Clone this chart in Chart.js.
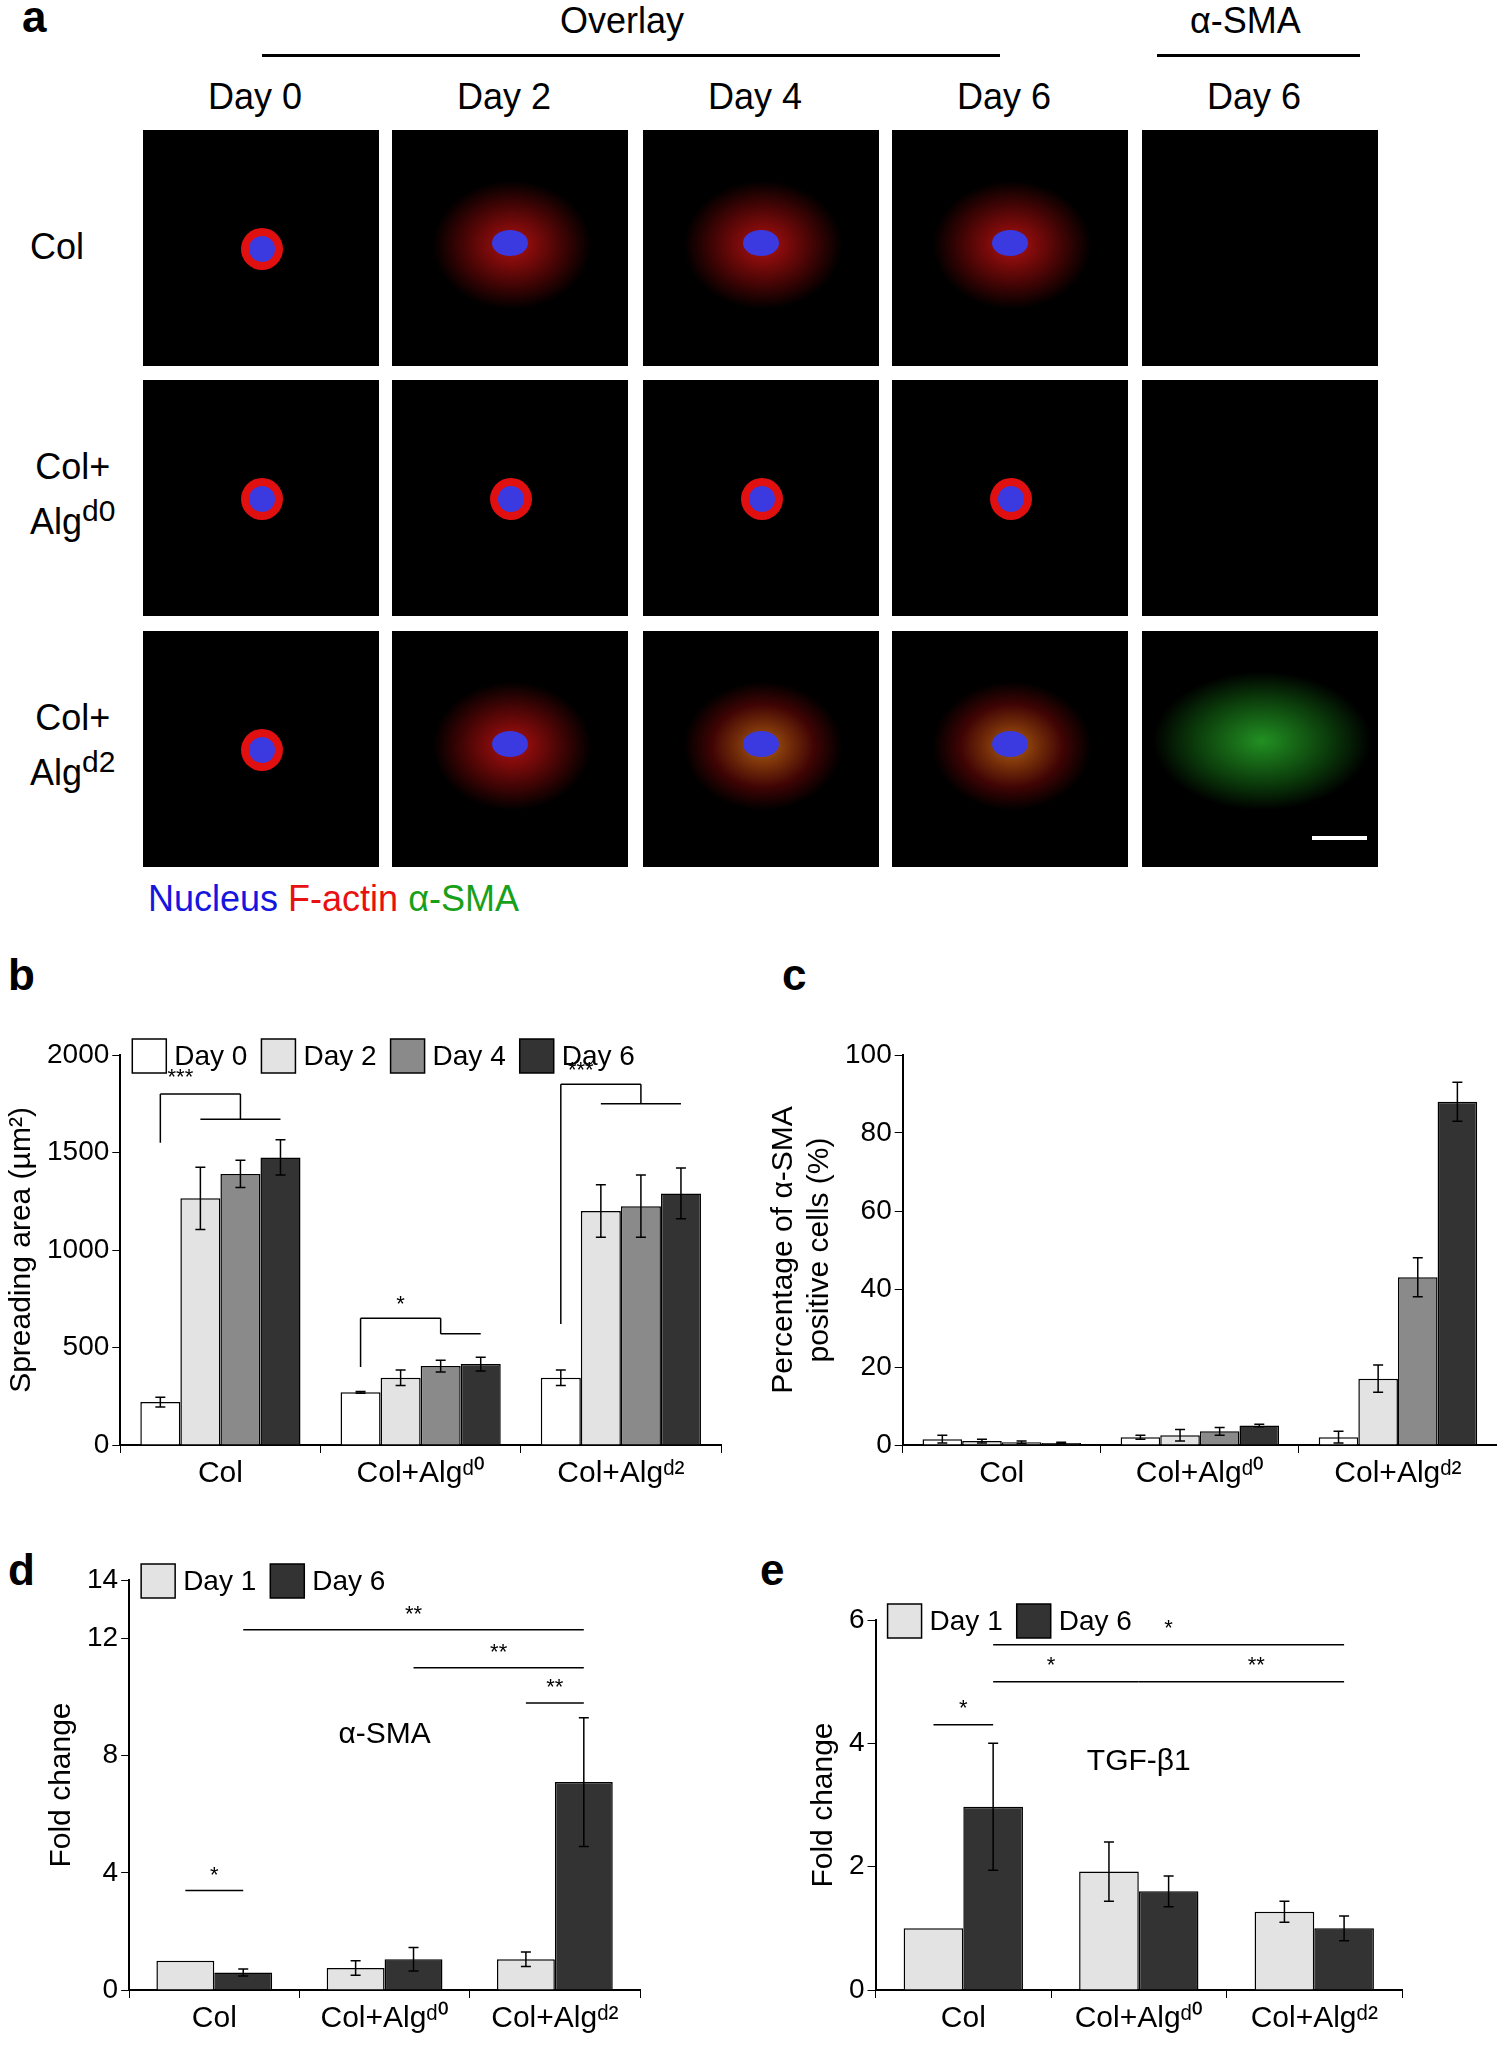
<!DOCTYPE html>
<html>
<head>
<meta charset="utf-8">
<script src="https://cdn.jsdelivr.net/npm/chart.js@4.4.1/dist/chart.umd.min.js"></script>
<style>
  body { margin:0; width:1497px; height:2045px; background:#fff; font-family:"Liberation Sans", Arial, sans-serif; position:relative; overflow:hidden; }
  .abs { position:absolute; }
  .lbl { position:absolute; font-size:36px; color:#000; }
  .panel { position:absolute; font-size:44px; font-weight:bold; }
  .img { position:absolute; width:236px; height:236px; background:#000; overflow:hidden; }
  .cell { position:absolute; border-radius:50%; }
</style>
</head>
<body>
<div class="panel" style="left:22px;top:-8px">a</div>
<div class="panel" style="left:8px;top:950px">b</div>
<div class="panel" style="left:782px;top:950px">c</div>
<div class="panel" style="left:8px;top:1545px">d</div>
<div class="panel" style="left:760px;top:1545px">e</div>
<div id="panelA"></div>
<div class="abs" style="left:0;top:1035px"><canvas id="chartB" width="735" height="460"></canvas></div>
<div class="abs" style="left:762px;top:1035px"><canvas id="chartC" width="735" height="460"></canvas></div>
<div class="abs" style="left:0;top:1560px"><canvas id="chartD" width="680" height="480"></canvas></div>
<div class="abs" style="left:762px;top:1600px"><canvas id="chartE" width="680" height="440"></canvas></div>
<script>
// ---- DATA ----
var groups = ["Col", "Col+Algᵈ⁰", "Col+Algᵈ²"];
var daysBC = ["Day 0", "Day 2", "Day 4", "Day 6"];
var daysDE = ["Day 1", "Day 6"];

// spreading area (um^2), per day, per group
var areaDay0 = [220, 270, 345];
var areaDay2 = [1265, 345, 1200];
var areaDay4 = [1390, 405, 1225];
var areaDay6 = [1475, 415, 1290];
var areaErr0 = [25, 5, 40];
var areaErr2 = [160, 40, 135];
var areaErr4 = [70, 30, 160];
var areaErr6 = [90, 35, 130];

// percentage of a-SMA positive cells
var smaPctDay0 = [1.5, 2, 2];
var smaPctDay2 = [1, 2.5, 17];
var smaPctDay4 = [0.7, 3.5, 43];
var smaPctDay6 = [0.5, 5, 88];
var smaPctErr0 = [1, 0.5, 1.5];
var smaPctErr2 = [0.5, 1.5, 3.5];
var smaPctErr4 = [0.3, 1, 5];
var smaPctErr6 = [0.2, 0.3, 5];

// fold change a-SMA
var smaFoldDay1 = [1, 0.75, 1.05];
var smaFoldDay6 = [0.6, 1.05, 7.1];
var smaFoldErr1 = [0, 0.25, 0.25];
var smaFoldErr6 = [0.12, 0.4, 2.2];

// fold change TGF-b1
var tgfDay1 = [1, 1.92, 1.27];
var tgfDay6 = [2.97, 1.6, 1.0];
var tgfErr1 = [0, 0.48, 0.17];
var tgfErr6 = [1.03, 0.25, 0.2];

var colors4 = ["#ffffff", "#e3e3e3", "#8a8a8a", "#333333"];
var colors2 = ["#e3e3e3", "#333333"];
var FONT = "Liberation Sans";

// ---- PANEL A (microscopy placeholders) ----
var pa = document.getElementById("panelA");
function add(html) { pa.insertAdjacentHTML("beforeend", html); }
add('<div class="lbl" style="left:560px;top:0px">Overlay</div>');
add('<div class="abs" style="left:262px;top:54px;width:738px;height:3px;background:#000"></div>');
add('<div class="lbl" style="left:1190px;top:0px">α-SMA</div>');
add('<div class="abs" style="left:1157px;top:54px;width:203px;height:3px;background:#000"></div>');
var colX = [143, 392, 643, 892, 1142];
var colLbl = ["Day 0", "Day 2", "Day 4", "Day 6", "Day 6"];
var rowY = [130, 380, 631];
var rowLbl = ["Col", "Col+<br>Alg<sup>d0</sup>", "Col+<br>Alg<sup>d2</sup>"];
colX.forEach(function (x, i) {
  add('<div class="lbl" style="left:' + (x + 65) + 'px;top:76px">' + colLbl[i] + '</div>');
});
rowY.forEach(function (y, r) {
  add('<div class="lbl" style="left:30px;top:' + (y + (r ? 65 : 95)) + 'px;line-height:44px;text-align:center">' + rowLbl[r] + '</div>');
  colX.forEach(function (x, c) {
    var inner = "";
    var spread = (c === 0 || (r === 1)) ? 0 : 1;
    if (c < 4) {
      if (spread) {
        var col = (r === 2 && c >= 2) ? "rgba(230,120,20,0.75)" : "rgba(220,20,20,0.8)";
        inner += '<div class="cell" style="left:40px;top:50px;width:160px;height:130px;background:radial-gradient(ellipse, ' + col + ' 0%, rgba(160,10,10,0.4) 45%, rgba(0,0,0,0) 70%)"></div>';
      } else {
        inner += '<div class="cell" style="left:98px;top:98px;width:42px;height:42px;background:#e01010"></div>';
      }
      inner += '<div class="cell" style="left:' + (spread ? 100 : 106) + 'px;top:' + (spread ? 100 : 106) + 'px;width:' + (spread ? 36 : 26) + 'px;height:26px;background:#3a3ae0"></div>';
    } else if (r === 2) {
      inner += '<div class="cell" style="left:10px;top:40px;width:220px;height:140px;background:radial-gradient(ellipse, rgba(40,170,40,0.85) 0%, rgba(20,110,20,0.5) 45%, rgba(0,0,0,0) 70%)"></div>';
      inner += '<div class="abs" style="left:170px;top:205px;width:55px;height:4px;background:#fff"></div>';
    }
    add('<div class="img" style="left:' + x + 'px;top:' + y + 'px">' + inner + '</div>');
  });
});
add('<div class="lbl" style="left:148px;top:878px"><span style="color:#1515e0">Nucleus</span> <span style="color:#e81010">F-actin</span> <span style="color:#19a019">α-SMA</span></div>');

// ---- plugins ----
var errorBars = {
  id: "errorBars",
  afterDatasetsDraw: function (chart) {
    var ctx = chart.ctx, y = chart.scales.y;
    chart.data.datasets.forEach(function (ds, di) {
      var meta = chart.getDatasetMeta(di);
      meta.data.forEach(function (bar, i) {
        var e = ds.err[i];
        if (!e) return;
        var v = ds.data[i], t = y.getPixelForValue(v + e), b = y.getPixelForValue(v - e);
        ctx.save(); ctx.strokeStyle = "#000"; ctx.lineWidth = 1.5;
        ctx.beginPath();
        ctx.moveTo(bar.x, t); ctx.lineTo(bar.x, b);
        ctx.moveTo(bar.x - 5, t); ctx.lineTo(bar.x + 5, t);
        ctx.moveTo(bar.x - 5, b); ctx.lineTo(bar.x + 5, b);
        ctx.stroke(); ctx.restore();
      });
    });
  }
};
function px(chart, p) {
  if (Array.isArray(p)) return chart.getDatasetMeta(p[0]).data[p[1]].x;
  return chart.scales.x.getPixelForValue(p);
}
var marks = {
  id: "marks",
  afterDraw: function (chart) {
    var o = chart.options.plugins.marks, ctx = chart.ctx, y = chart.scales.y;
    ctx.save(); ctx.strokeStyle = "#000"; ctx.fillStyle = "#000"; ctx.lineWidth = 1.5;
    // legend inside plot area, top-left
    var lx = chart.chartArea.left + 12, ly = chart.chartArea.top - 16;
    ctx.font = "28px " + FONT; ctx.textBaseline = "middle"; ctx.textAlign = "left";
    chart.data.datasets.forEach(function (ds) {
      ctx.fillStyle = ds.backgroundColor;
      ctx.fillRect(lx, ly, 34, 34); ctx.strokeRect(lx, ly, 34, 34);
      ctx.fillStyle = "#000";
      ctx.fillText(ds.label, lx + 42, ly + 18);
      lx += 42 + ctx.measureText(ds.label).width + 14;
    });
    if (o) {
      (o.segs || []).forEach(function (s) {
        ctx.beginPath();
        ctx.moveTo(px(chart, s[0]), y.getPixelForValue(s[1]));
        ctx.lineTo(px(chart, s[2]), y.getPixelForValue(s[3]));
        ctx.stroke();
      });
      (o.texts || []).forEach(function (t) {
        ctx.font = (t[3] || 22) + "px " + FONT;
        ctx.textAlign = "center"; ctx.textBaseline = "middle";
        var x = t[0].length === 2 && Array.isArray(t[0][0]) ? (px(chart, t[0][0]) + px(chart, t[0][1])) / 2 : px(chart, t[0]);
        ctx.fillText(t[2], x, y.getPixelForValue(t[1]));
      });
    }
    ctx.restore();
  }
};

function makeSets(labels, values, errs, colors) {
  return labels.map(function (l, i) {
    return { label: l, data: values[i], err: errs[i], backgroundColor: colors[i], borderColor: "#000", borderWidth: 1.5 };
  });
}
function axisOpts(min, max, step, title, hideTop) {
  return {
    x: {
      grid: { display: true, drawOnChartArea: false, drawTicks: true, tickLength: 8, color: "#000", offset: true },
      border: { color: "#000", width: 2 },
      ticks: { color: "#000", font: { size: 30, family: FONT } }
    },
    y: {
      min: min, max: max,
      grid: { display: true, drawOnChartArea: false, drawTicks: true, tickLength: 8, color: "#000" },
      border: { color: "#000", width: 2 },
      ticks: { stepSize: step, color: "#000", font: { size: 28, family: FONT },
        callback: function (v) { return (hideTop && v === max) ? "" : v; } },
      title: { display: true, text: title, color: "#000", font: { size: 30, family: FONT } }
    }
  };
}
function barChart(id, sets, scales, extra, pad, catPct) {
  return new Chart(document.getElementById(id), {
    type: "bar",
    data: { labels: groups, datasets: sets },
    options: {
      responsive: false, animation: false, devicePixelRatio: 1,
      layout: { padding: pad },
      datasets: { bar: { categoryPercentage: catPct, barPercentage: 1 } },
      scales: scales,
      plugins: { legend: { display: false }, tooltip: { enabled: false }, marks: extra }
    },
    plugins: [errorBars, marks]
  });
}

// ---- PANEL B ----
barChart("chartB",
  makeSets(daysBC, [areaDay0, areaDay2, areaDay4, areaDay6], [areaErr0, areaErr2, areaErr4, areaErr6], colors4),
  axisOpts(0, 2000, 500, "Spreading area (µm²)"),
  { segs: [
      [[0,0],1550,[0,0],1800],[[0,0],1800,[2,0],1800],[[2,0],1800,[2,0],1670],[[1,0],1670,[3,0],1670],
      [[0,1],400,[0,1],650],[[0,1],650,[2,1],650],[[2,1],650,[2,1],570],[[2,1],570,[3,1],570],
      [[0,2],620,[0,2],1850],[[0,2],1850,[2,2],1850],[[2,2],1850,[2,2],1750],[[1,2],1750,[3,2],1750]],
    texts: [[[[0,0],[1,0]],1880,"***"],[[[0,1],[2,1]],720,"*"],[[[0,2],[1,2]],1920,"***"]] },
  { left: 0, right: 14, top: 20, bottom: 0 }, 0.8);

// ---- PANEL C ----
barChart("chartC",
  makeSets(daysBC, [smaPctDay0, smaPctDay2, smaPctDay4, smaPctDay6], [smaPctErr0, smaPctErr2, smaPctErr4, smaPctErr6], colors4),
  axisOpts(0, 100, 20, ["Percentage of α-SMA", "positive cells (%)"]),
  null, { left: 0, right: 0, top: 20, bottom: 0 }, 0.8);

// ---- PANEL D ----
barChart("chartD",
  makeSets(daysDE, [smaFoldDay1, smaFoldDay6], [smaFoldErr1, smaFoldErr6], colors2),
  axisOpts(0, 14, 4, "Fold change"),
  { segs: [[[1,0],12.3,[1,2],12.3],[[1,1],11.0,[1,2],11.0],[[0,2],9.8,[1,2],9.8],[[0,0],3.4,[1,0],3.4]],
    texts: [[[[1,0],[1,2]],12.8,"**"],[[[1,1],[1,2]],11.5,"**"],[[[0,2],[1,2]],10.3,"**"],[[[0,0],[1,0]],3.9,"*"],[1,8.7,"α-SMA",30]] },
  { left: 40, right: 40, top: 20, bottom: 0 }, 0.68);

// ---- PANEL E ----
barChart("chartE",
  makeSets(daysDE, [tgfDay1, tgfDay6], [tgfErr1, tgfErr6], colors2),
  axisOpts(0, 6, 2, "Fold change"),
  { segs: [[[0,0],4.3,[1,0],4.3],[[1,0],5.6,[1,2],5.6],[[1,0],5.0,1,5.0],[1,5.0,[1,2],5.0]],
    texts: [[[[0,0],[1,0]],4.55,"*"],[[[1,0],[1,2]],5.85,"*"],[[[1,0],[0,1]],5.25,"*"],[[[1,1],[1,2]],5.25,"**"],[1,3.7,"TGF-β1",30]] },
  { left: 40, right: 40, top: 20, bottom: 0 }, 0.68);
</script>
</body>
</html>
